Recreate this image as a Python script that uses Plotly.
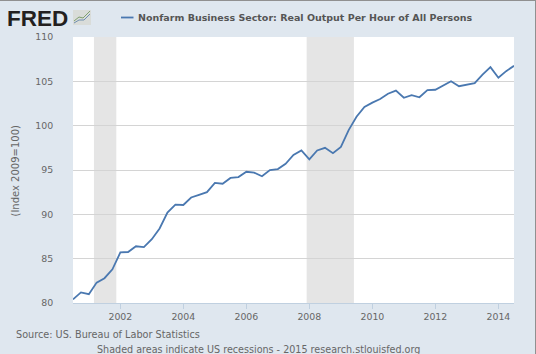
import plotly.graph_objects as go

quarters = [f"{y}-{m:02d}-01" for y in range(2000, 2015) for m in (1, 4, 7, 10)][2:-1]
output_per_hour = [
    80.4, 81.2,
    81.0, 82.3, 82.8, 83.8,
    85.7, 85.75, 86.4, 86.3,
    87.2, 88.4, 90.2, 91.1,
    91.05, 91.9, 92.2, 92.5,
    93.55, 93.45, 94.1, 94.2,
    94.8, 94.7, 94.3, 95.0,
    95.1, 95.7, 96.7, 97.2,
    96.2, 97.2, 97.5, 96.9,
    97.6, 99.5, 101.0, 102.1,
    102.6, 103.0, 103.6, 103.95,
    103.15, 103.45, 103.2, 104.0,
    104.05, 104.55, 105.0, 104.45,
    104.65, 104.8, 105.75, 106.6,
    105.4, 106.15, 106.75,
]
recessions = [("2001-03-01", "2001-11-15"), ("2007-12-01", "2009-06-01")]
x_ticks = ["2002-01-01", "2004-01-01", "2006-01-01", "2008-01-01", "2010-01-01", "2012-01-01", "2014-01-01"]
x_labels = ["2002", "2004", "2006", "2008", "2010", "2012", "2014"]
y_ticks = [80, 85, 90, 95, 100, 105, 110]

W, H = 536, 354
L, R, T, B = 73, 22, 37, 51
PW, PH = W - L - R, H - T - B
BG = "#dfe7ef"
LINE = "#4a78b0"
TXT = "#666666"
FONT = "DejaVu Sans"

def px(x):
    return (x - L) / PW

def py(y):
    return (H - B - y) / PH

fig = go.Figure()
fig.add_trace(go.Scatter(x=quarters, y=output_per_hour, mode="lines",
                         line=dict(color=LINE, width=1.8), hoverinfo="skip", showlegend=False))

shapes = []
for start, end in recessions:
    shapes.append(dict(type="rect", xref="x", yref="paper", x0=start, x1=end, y0=0, y1=1,
                       fillcolor="#e5e5e5", line_width=0, layer="below"))
# outer frame of the picture
shapes.append(dict(type="line", xref="paper", yref="paper", x0=px(0), x1=px(W), y0=py(0.5), y1=py(0.5),
                   line=dict(color="#909090", width=1)))
shapes.append(dict(type="line", xref="paper", yref="paper", x0=px(535.5), x1=px(535.5), y0=py(0), y1=py(H),
                   line=dict(color="#909090", width=1)))
# legend key
shapes.append(dict(type="line", xref="paper", yref="paper", x0=px(121), x1=px(133.5), y0=py(17.5), y1=py(17.5),
                   line=dict(color=LINE, width=1.8)))
# logo icon
shapes.append(dict(type="rect", xref="paper", yref="paper", x0=px(73), x1=px(91), y0=py(25), y1=py(10),
                   fillcolor="#d9dcd9", line_width=0))
shapes.append(dict(type="path", xref="paper", yref="paper",
                   path=f"M {px(74)} {py(21)} L {px(79)} {py(17)} L {px(83)} {py(18)} L {px(90)} {py(11)}",
                   line=dict(color="#7f9f6f", width=1)))
shapes.append(dict(type="path", xref="paper", yref="paper",
                   path=f"M {px(74)} {py(23)} L {px(79)} {py(20)} L {px(84)} {py(20)} L {px(90)} {py(14)}",
                   line=dict(color="#6f8fb0", width=1)))

def note(text, x, y, size, color=TXT, anchor="left", angle=0, family=FONT):
    return dict(text=text, xref="paper", yref="paper", x=px(x), y=py(y), showarrow=False,
                xanchor=anchor, yanchor="middle", textangle=angle,
                font=dict(family=family, size=size, color=color))

annotations = [
    note("<b>FRED</b>", 5, 18.5, 22.5, color="#231f20", family="Liberation Sans"),
    note("<b>Nonfarm Business Sector: Real Output Per Hour of All Persons</b>", 136, 17.5, 9.5, color="#555555"),
    note("(Index 2009=100)", 15, 170.5, 10, anchor="center", angle=-90),
    note("Source: US. Bureau of Labor Statistics", 13.5, 334, 9.7),
    note("Shaded areas indicate US recessions - 2015 research.stlouisfed.org", 94.5, 349.5, 9.6),
]

fig.update_layout(
    width=W, height=H, autosize=False,
    margin=dict(l=L, r=R, t=T, b=B, pad=0),
    paper_bgcolor=BG, plot_bgcolor="#ffffff",
    shapes=shapes, annotations=annotations,
    font=dict(family=FONT, size=10, color=TXT),
    xaxis=dict(type="date", range=["2000-07-01", "2014-07-01"], tickmode="array",
               tickvals=x_ticks, ticktext=x_labels, showgrid=False, showline=True,
               linecolor="#c0d0e0", linewidth=1, ticks="outside", ticklen=5, tickcolor="#c0d0e0",
               tickfont=dict(family=FONT, size=9.4, color=TXT), zeroline=False),
    yaxis=dict(range=[80, 110], tickmode="array", tickvals=y_ticks, ticktext=[str(v) for v in y_ticks],
               showgrid=True, gridcolor="#d4d4d4", gridwidth=1, zeroline=False, showline=False,
               ticks="outside", ticklen=17, tickcolor="rgba(0,0,0,0)",
               tickfont=dict(family=FONT, size=9.4, color=TXT)),
)

fig.write_html("out.html", config=dict(displayModeBar=False),
               post_script="document.body.style.margin='0';document.documentElement.style.overflow='hidden';")
